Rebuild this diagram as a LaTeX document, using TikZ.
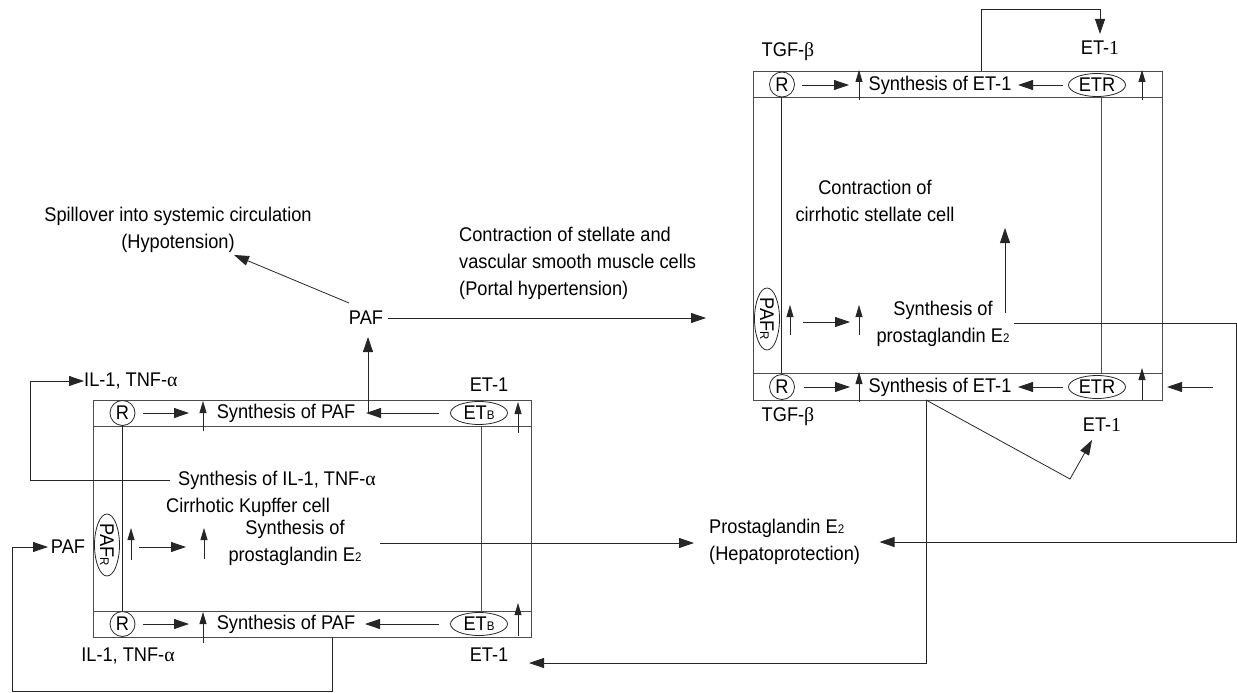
\documentclass[tikz,border=0pt]{standalone}
\usepackage{fontspec}
\setmainfont{Liberation Sans}[FakeStretch=0.92]
\newfontfamily\serifone{Liberation Serif}
\usetikzlibrary{arrows.meta,shapes.geometric}
\newcommand{\mysub}[1]{{\fontsize{12.5}{12.5}\selectfont #1}}
\newcommand{\gr}[1]{{\serifone #1}}
\begin{document}
\begin{tikzpicture}[x=1pt,y=-1pt,
  font=\fontsize{19.8}{27}\selectfont,
  box/.style={draw=black!70,line width=0.9pt},
  ln/.style={draw=black!85,line width=0.8pt},
  arr/.style={ln,-{Triangle[length=15pt,width=10pt]}},
  uparr/.style={ln,-{Triangle[length=12pt,width=7pt]}},
  rc/.style={circle,draw=black!85,fill=white,line width=0.8pt,inner sep=0pt,minimum size=25pt},
  el/.style={ellipse,draw=black!85,fill=white,line width=0.8pt,inner sep=0pt,minimum width=57pt,minimum height=23pt},
  elv/.style={ellipse,draw=black!85,fill=white,line width=0.8pt,inner sep=0pt,minimum width=62pt,minimum height=25pt,rotate=-90},
  txt/.style={inner sep=0pt}]
\useasboundingbox (0,0) rectangle (1237,693);

% ---------------- Left cell (Kupffer cell) ----------------
\draw[box] (93.5,400.7) rectangle (531.5,637);
\draw[box] (93.5,426) -- (531.5,426);
\draw[box] (93.5,611) -- (531.5,611);
\draw[ln] (122.5,426) -- (122.5,611);
\draw[box] (481,426) -- (481,611);

\node[rc] (lR1) at (122.5,413) {R};
\node[rc] (lR2) at (122.5,624) {R};
\node[el] (lE1) at (479,413) {ET\mysub{B}};
\node[el] (lE2) at (479,624) {ET\mysub{B}};
\node[txt] (lS1) at (286,413) {Synthesis of PAF};
\node[txt] (lS2) at (286,624) {Synthesis of PAF};

\draw[arr] (143,413) -- (189,413);
\draw[uparr] (203,431) -- (203,401);
\draw[arr] (438.6,413) -- (366,413);
\draw[uparr] (518,433) -- (518,402);
\draw[arr] (143,624) -- (189,624);
\draw[uparr] (203,643) -- (203,612);
\draw[arr] (438.6,624) -- (365,624);
\draw[uparr] (518,636) -- (518,603);

\node[elv] (lPR) at (107,545) {PAF\mysub{R}};
\draw[uparr] (131,560) -- (131,528);
\draw[arr] (139,547) -- (186,547);
\draw[uparr] (204,559) -- (204,528);
\node[txt,align=center] (lPG) at (295,543) {Synthesis of\\prostaglandin E\mysub{2}};
\node[txt] (lSIL) at (277,480) {Synthesis of IL-1, TNF-\gr{α}};
\node[txt] (lKC) at (248,507) {Cirrhotic Kupffer cell};

\node[txt,anchor=west] (lILt) at (84,381) {IL-1, TNF-\gr{α}};
\node[txt] (lILb) at (128,656) {IL-1, TNF-\gr{α}};
\node[txt] (lETt) at (489,385) {ET-1};
\node[txt] (lETb) at (489,655) {ET-1};
\node[txt] (lPAFl) at (68,547) {PAF};

\draw[arr] (170,480) -- (30,480) -- (30,381) -- (lILt.west);
\draw[arr] (332.7,637) -- (332.7,691) -- (12,691) -- (12,547) -- (48,547);

% ---------------- Middle ----------------
\node[txt] (pafm) at (366,318) {PAF};
\draw[arr] (368,413) -- (368,337);
\draw[arr] (349,303) -- (234,255);
\node[txt,align=center] (spill) at (178,230) {Spillover into systemic circulation\\(Hypotension)};
\draw[arr] (388,318) -- (706,318);
\node[txt,align=left,anchor=west] (contr) at (459,263) {Contraction of stellate and\\vascular smooth muscle cells\\(Portal hypertension)};
\draw[arr] (380,543) -- (694,543);
\node[txt,align=left,anchor=west] (pge) at (709,541.5) {Prostaglandin E\mysub{2}\\(Hepatoprotection)};

% ---------------- Right cell (stellate cell) ----------------
\draw[box] (753,71) rectangle (1162,400);
\draw[box] (753,97) -- (1162,97);
\draw[box] (753,373) -- (1162,373);
\draw[ln] (781.5,97) -- (781.5,373);
\draw[box] (1101,97) -- (1101,373);

\node[rc] (rR1) at (782,84.5) {R};
\node[rc] (rR2) at (782,387) {R};
\node[el] (rE1) at (1097,85) {ETR};
\node[el] (rE2) at (1097,387) {ETR};
\node[txt] (rS1) at (940,85) {Synthesis of ET-1};
\node[txt] (rS2) at (940,387) {Synthesis of ET-1};

\draw[arr] (802,85) -- (849,85);
\draw[uparr] (859,100) -- (859,70);
\draw[arr] (1063,85) -- (1018,85);
\draw[uparr] (1142,100) -- (1142,70);
\draw[arr] (804,387) -- (850,387);
\draw[uparr] (859,402) -- (859,372);
\draw[arr] (1063,387) -- (1018,387);
\draw[uparr] (1142,400) -- (1142,368);
\draw[arr] (1213,387) -- (1167,387);

\node[txt] (tgft) at (788,52) {TGF-\gr{β}};
\node[txt] (tgfb) at (788,417) {TGF-\gr{β}};
\node[txt] (rETt) at (1100,48) {ET-\gr{1}};
\node[txt] (rETb) at (1102,425) {ET-\gr{1}};
\draw[arr] (981.7,71) -- (981.7,9) -- (1100,9) -- (1100,34);

\node[txt,align=center] (rC) at (875,201) {Contraction of\\cirrhotic stellate cell};
\draw[arr] (1005,313) -- (1005,228);
\node[elv] (rPR) at (767,319) {PAF\mysub{R}};
\draw[uparr] (790,335) -- (790,305);
\draw[arr] (803,322) -- (850,322);
\draw[uparr] (859,335) -- (859,305);
\node[txt,align=center] (rPG) at (943,324) {Synthesis of\\prostaglandin E\mysub{2}};

\draw[arr] (1014,323) -- (1236,323) -- (1236,542) -- (879.5,542);
\draw[arr] (926,400) -- (926,663) -- (529,663);
\draw[arr] (926,400) -- (1070,479) -- (1092,440);
\end{tikzpicture}
\end{document}
